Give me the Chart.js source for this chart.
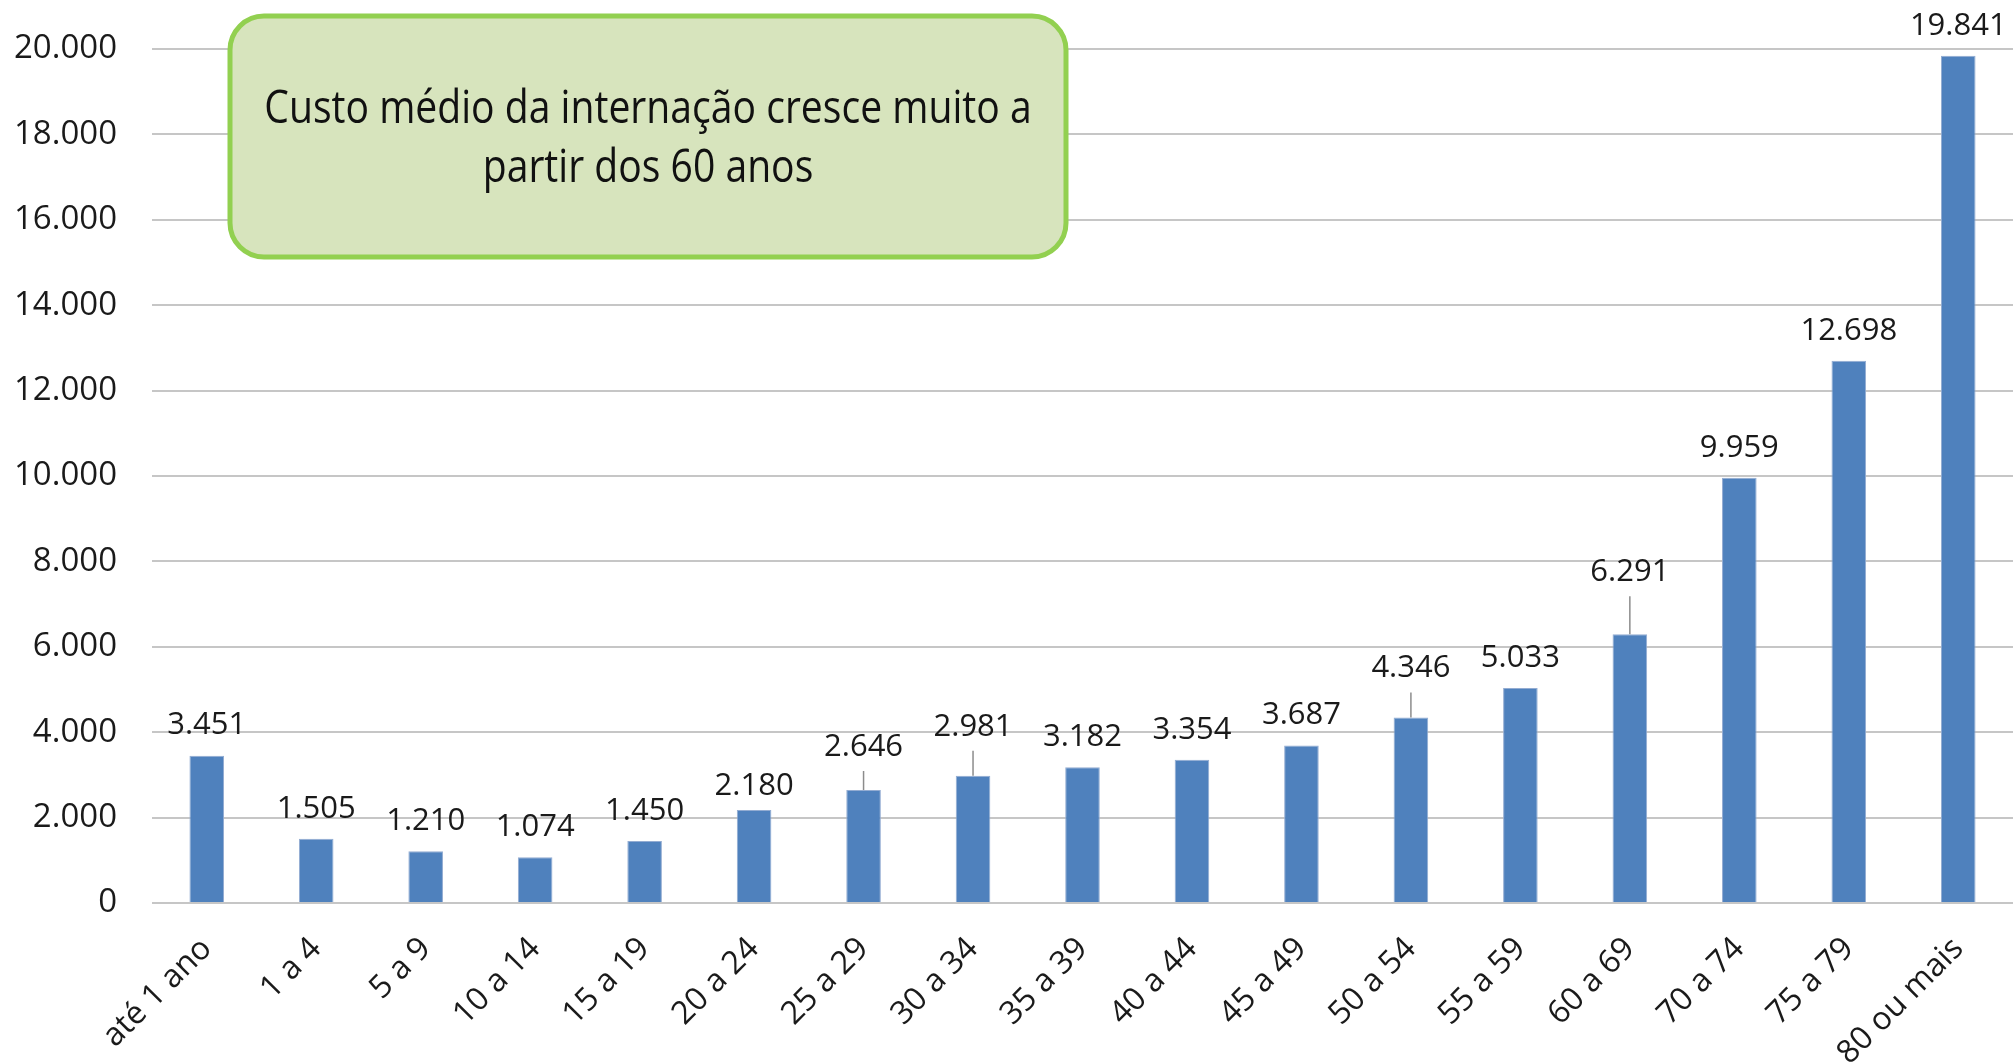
<!DOCTYPE html>
<html lang="pt-BR">
<head>
<meta charset="utf-8">
<title>Custo médio da internação por faixa etária</title>
<script src="https://cdn.jsdelivr.net/npm/chart.js@4.4.1/dist/chart.umd.min.js"></script>
<style>
  html, body { margin: 0; padding: 0; background: #fff; }
  #wrap { width: 2013px; height: 1063px; }
</style>
</head>
<body>
<div id="wrap"><canvas id="custoChart" width="2013" height="1063"></canvas></div>
<script>
// 1. DADOS
const faixas = ['até 1 ano', '1 a 4', '5 a 9', '10 a 14', '15 a 19', '20 a 24', '25 a 29', '30 a 34',
    '35 a 39', '40 a 44', '45 a 49', '50 a 54', '55 a 59', '60 a 69', '70 a 74', '75 a 79', '80 ou mais'];
const custoMedio = [3451, 1505, 1210, 1074, 1450, 2180, 2646, 2981, 3182, 3354, 3687, 4346, 5033, 6291, 9959, 12698, 19841];
const yTicks = [0, 2000, 4000, 6000, 8000, 10000, 12000, 14000, 16000, 18000, 20000];
const nota = ['Custo médio da internação cresce muito a', 'partir dos 60 anos'];

// rótulos que no original foram puxados para cima (px), com linha guia
const elevacaoRotulo = [0, 0, 0, 0, 0, -6, 13, 19, 0, 0, 0, 19, 0, 32, 0, 0, 0];

// 2. UTILIDADES
function fmt(v) {
    return String(v).replace(/\B(?=(\d{3})+(?!\d))/g, '.');
}

const FONTE = '"Open Sans", "DejaVu Sans", sans-serif';

// rótulos de valor acima das barras
const rotulosPlugin = {
    id: 'rotulos',
    afterDatasetsDraw(chart) {
        const ctx = chart.ctx;
        const meta = chart.getDatasetMeta(0);
        ctx.save();
        ctx.font = '31px ' + FONTE;
        ctx.textAlign = 'center';
        ctx.textBaseline = 'middle';
        meta.data.forEach((bar, i) => {
            const lift = elevacaoRotulo[i];
            const yTexto = bar.y - 30 - lift;
            if (lift > 8) {
                ctx.strokeStyle = '#8c8c8c';
                ctx.lineWidth = 1.5;
                ctx.beginPath();
                ctx.moveTo(bar.x, bar.y);
                ctx.lineTo(bar.x, yTexto + 24);
                ctx.stroke();
            }
            ctx.fillStyle = '#1a1a1a';
            ctx.fillText(fmt(custoMedio[i]), bar.x, yTexto);
        });
        ctx.restore();
    }
};

// caixa verde com a mensagem
const notaPlugin = {
    id: 'nota',
    afterDraw(chart) {
        const ctx = chart.ctx;
        const x = 230, y = 16, w = 836, h = 241, r = 34;
        ctx.save();
        ctx.beginPath();
        ctx.roundRect(x, y, w, h, r);
        ctx.fillStyle = '#D7E4BD';
        ctx.fill();
        ctx.lineWidth = 5;
        ctx.strokeStyle = '#92D050';
        ctx.stroke();
        ctx.fillStyle = '#111';
        ctx.font = '46px ' + FONTE;
        ctx.textAlign = 'center';
        ctx.textBaseline = 'middle';
        ctx.translate(x + w / 2, 0);
        ctx.scale(0.85, 1);
        nota.forEach((linha, i) => ctx.fillText(linha, 0, 110 + i * 59));
        ctx.restore();
    }
};

// 3. GRÁFICO
const ctx = document.getElementById('custoChart');
new Chart(ctx, {
    type: 'bar',
    data: {
        labels: faixas,
        datasets: [{
            label: 'Custo médio',
            data: custoMedio,
            backgroundColor: '#4F81BD',
            borderColor: '#93ACD2',
            borderWidth: 1,
            categoryPercentage: 1,
            barPercentage: 0.316
        }]
    },
    options: {
        responsive: false,
        animation: false,
        devicePixelRatio: 1,
        layout: { padding: { top: 49, right: -4, bottom: 0, left: 0 } },
        plugins: { legend: { display: false }, tooltip: { enabled: false } },
        scales: {
            x: {
                grid: { display: false },
                border: { display: false },
                // os rótulos inclinados podem sair da área à esquerda, como no original
                afterFit: (scale) => { scale.paddingLeft = 0; scale.paddingRight = 0; scale.height = 160; },
                ticks: {
                    minRotation: 45, maxRotation: 45, padding: 19,
                    color: '#1a1a1a', font: { family: FONTE, size: 32 }
                }
            },
            y: {
                min: 0, max: 20000,
                afterBuildTicks: (axis) => { axis.ticks = yTicks.map(v => ({ value: v })); },
                afterFit: (scale) => { scale.width = 152; scale.paddingTop = 0; scale.paddingBottom = 0; },
                grid: { color: '#c6c6c6', lineWidth: 2, drawTicks: false },
                border: { display: false },
                ticks: {
                    padding: 35, color: '#1a1a1a',
                    font: { family: FONTE, size: 33 },
                    callback: (v) => fmt(v)
                }
            }
        }
    },
    plugins: [rotulosPlugin, notaPlugin]
});
</script>
</body>
</html>
